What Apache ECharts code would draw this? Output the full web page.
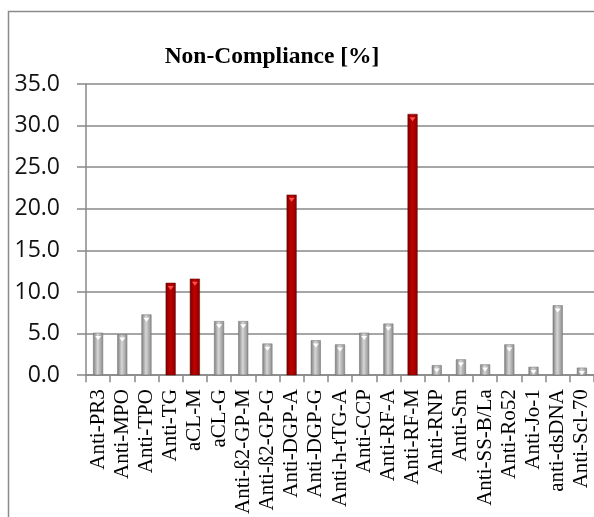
<!DOCTYPE html>
<html>
<head>
<meta charset="utf-8">
<script src="https://cdn.jsdelivr.net/npm/echarts@6/dist/echarts.min.js"></script>
<style>
  html, body { margin: 0; padding: 0; background: #fff; }
  #main { width: 594px; height: 517px; }
</style>
</head>
<body>
<div id="main"></div>
<script>
// categories and values
var categories = ['Anti-PR3', 'Anti-MPO', 'Anti-TPO', 'Anti-TG', 'aCL-M', 'aCL-G',
  'Anti-\u00df2-GP-M', 'Anti-\u00df2-GP-G', 'Anti-DGP-A', 'Anti-DGP-G', 'Anti-h-tTG-A',
  'Anti-CCP', 'Anti-RF-A', 'Anti-RF-M', 'Anti-RNP', 'Anti-Sm', 'Anti-SS-B/La',
  'Anti-Ro52', 'Anti-Jo-1', 'anti-dsDNA', 'Anti-Scl-70'];
var values = [5.1, 4.9, 7.3, 11.1, 11.6, 6.5, 6.5, 3.8, 21.7, 4.2, 3.7,
  5.1, 6.2, 31.4, 1.2, 1.9, 1.3, 3.7, 1.0, 8.4, 0.9];
var redItems = ['Anti-TG', 'aCL-M', 'Anti-DGP-A', 'Anti-RF-M'];
var yTicks = [0, 5, 10, 15, 20, 25, 30, 35];

function grad(edge, mid, edge2) {
  return new echarts.graphic.LinearGradient(0, 0, 1, 0, [
    { offset: 0, color: edge },
    { offset: 0.45, color: mid },
    { offset: 1, color: edge2 }
  ]);
}

var barData = [];
for (var i = 0; i < categories.length; i++) {
  var red = redItems.indexOf(categories[i]) >= 0;
  barData.push({
    value: values[i],
    itemStyle: {
      color: red ? grad('#760000', '#c40000', '#880000') : grad('#7c7c7c', '#d6d6d6', '#8a8a8a'),
      borderColor: red ? '#600000' : '#6f6f6f',
      borderWidth: 0.5
    }
  });
}
var capData = [];
for (var j = 0; j < categories.length; j++) {
  var isRed = redItems.indexOf(categories[j]) >= 0;
  capData.push({ value: values[j], itemStyle: { color: isRed ? '#ff5050' : '#ffffff' } });
}

var myChart = echarts.init(document.getElementById('main'));
var option = {
  backgroundColor: '#fff',
  animation: false,
  title: {
    text: 'Non-Compliance [%]',
    left: 267,
    textAlign: 'center',
    top: 40,
    textStyle: { fontFamily: 'Liberation Serif', fontWeight: 'bold', fontSize: 23.5, color: '#000' }
  },
  graphic: [{
    type: 'rect',
    shape: { x: 8.5, y: 11.5, width: 620, height: 540 },
    style: { fill: 'none', stroke: '#8a8a8a', lineWidth: 1.5 },
    z: -1
  }],
  grid: { left: 86, top: 84, width: 512, height: 293 },
  xAxis: {
    type: 'category',
    data: categories,
    axisLine: { lineStyle: { color: '#888', width: 1.5 } },
    axisTick: { show: true, length: 7, lineStyle: { color: '#888', width: 1.5 } },
    axisLabel: {
      rotate: 90,
      interval: 0,
      margin: 14,
      fontFamily: 'Liberation Serif',
      fontSize: 21,
      color: '#000'
    }
  },
  yAxis: {
    type: 'value',
    min: yTicks[0],
    max: yTicks[yTicks.length - 1],
    interval: 5,
    axisLine: { show: true, lineStyle: { color: '#888', width: 1.5 } },
    axisTick: { show: true, length: 9, lineStyle: { color: '#888', width: 1.5 } },
    splitLine: { lineStyle: { color: '#888', width: 1.5 } },
    axisLabel: {
      margin: 26,
      fontFamily: 'Open Sans',
      fontSize: 23,
      color: '#111',
      formatter: function (v) { return v.toFixed(1); }
    }
  },
  series: [{
    type: 'bar',
    data: barData,
    barWidth: 10,
    barGap: '-100%'
  }, {
    type: 'pictorialBar',
    data: capData,
    symbol: 'triangle',
    symbolRotate: 180,
    symbolSize: [6, 4],
    symbolPosition: 'end',
    symbolOffset: [0, '80%'],
    barGap: '-100%',
    z: 5
  }]
};
myChart.setOption(option);
</script>
</body>
</html>
